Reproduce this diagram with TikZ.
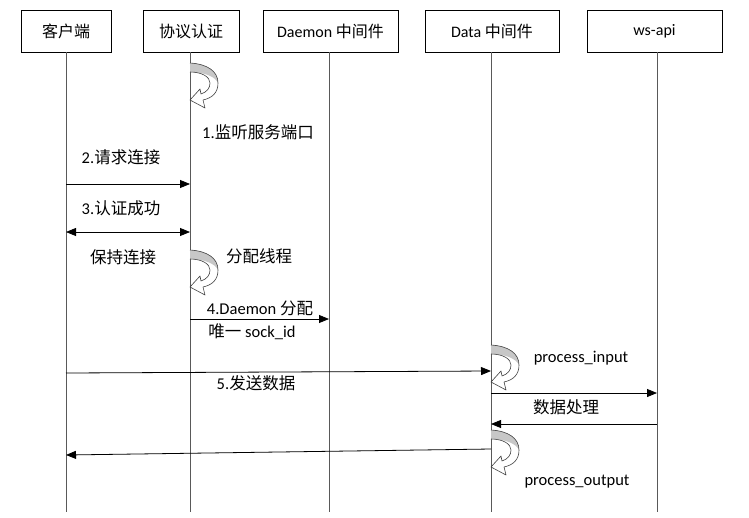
\documentclass[tikz,border=0pt]{standalone}
\usepackage{fontspec}
\setmainfont{Carlito}
\newfontfamily\cjk{Noto Sans CJK SC}
\usetikzlibrary{arrows.meta}
\begin{document}
\begin{tikzpicture}[x=1pt,y=-1pt,
  box/.style={draw, line width=0.8pt, minimum height=42pt, inner sep=0pt, font=\fontsize{16}{18}\selectfont},
  life/.style={draw=black!65, line width=0.8pt},
  msg/.style={line width=0.8pt, -{Triangle[length=10pt,width=8pt]}},
  dmsg/.style={line width=0.8pt, {Triangle[length=10pt,width=8pt]}-{Triangle[length=10pt,width=8pt]}},
  lbl/.style={inner sep=0pt, font=\fontsize{16.5}{18}\selectfont},
  selfcurl/.pic={
    \fill[black!22] (0,0) .. controls (17,1) and (28,8) .. (28,20)
      .. controls (26,14) and (14,9) .. (0,9) -- cycle;
    \draw[black!75, line width=0.6pt, line join=round]
      (0,0) .. controls (17,1) and (28,8) .. (28,20)
      .. controls (28,30) and (22,35) .. (13,37) -- (15,45) -- (0,37)
      -- (10,26) -- (11,31) .. controls (17,29) and (20,25) .. (20,20)
      .. controls (20,14) and (12,9) .. (0,9);
  }]
\useasboundingbox (0,0) rectangle (749,517);

% heads
\node[box, minimum width=90pt]  (b1) at (66,31)    {\cjk 客户端};
\node[box, minimum width=96pt]  (b2) at (191,31)   {\cjk 协议认证};
\node[box, minimum width=135pt] (b3) at (330.5,31) {Daemon {\cjk 中间件}};
\node[box, minimum width=134pt] (b4) at (492,31)   {Data {\cjk 中间件}};
\node[box, minimum width=135pt] (b5) at (654.5,31) {ws-api};

% lifelines
\coordinate (e1) at (66,512);
\coordinate (e2) at (190,512);
\coordinate (e3) at (329,512);
\coordinate (e4) at (491,512);
\coordinate (e5) at (657,512);
\draw[life] (b1.south -| e1) -- (e1);
\draw[life] (b2.south -| e2) -- (e2);
\draw[life] (b3.south -| e3) -- (e3);
\draw[life] (b4.south -| e4) -- (e4);
\draw[life] (b5.south -| e5) -- (e5);

% self activations
\pic (s1) at (190,63)  {selfcurl};
\pic (s2) at (190,250) {selfcurl};
\pic (s3) at (491,345) {selfcurl};
\pic (s4) at (491,430) {selfcurl};

% message end points
\coordinate (m2a) at (66,184);   \coordinate (m2b) at (190,184);
\coordinate (m3a) at (66,232);   \coordinate (m3b) at (190,232);
\coordinate (m4a) at (190,319);  \coordinate (m4b) at (329,319);
\coordinate (m5a) at (66,373);   \coordinate (m5b) at (491,371);
\coordinate (m6a) at (491,393);  \coordinate (m6b) at (657,393);
\coordinate (m7a) at (657,424);  \coordinate (m7b) at (491,424);
\coordinate (m8a) at (491,449);  \coordinate (m8b) at (66,455);

\draw[msg]  (m2a) -- (m2b);
\draw[dmsg] (m3a) -- (m3b);
\draw[msg]  (m4a) -- (m4b);
\draw[msg]  (m5a) -- (m5b);
\draw[msg]  (m6a) -- (m6b);
\draw[msg]  (m7a) -- (m7b);
\draw[msg]  (m8a) -- (m8b);

% labels
\node[lbl] (t1)  at (258,132) {1.{\cjk 监听服务端口}};
\node[lbl] (t2)  at (121,157) {2.{\cjk 请求连接}};
\node[lbl] (t3)  at (121,208) {3.{\cjk 认证成功}};
\node[lbl] (t3b) at (123,257) {\cjk 保持连接};
\node[lbl] (t4a) at (259,256) {\cjk 分配线程};
\node[lbl] (t4)  at (260,308) {4.Daemon {\cjk 分配}};
\node[lbl] (t4b) at (252,332) {{\cjk 唯一} sock\_id};
\node[lbl] (t5a) at (581,358) {process\_input};
\node[lbl] (t5)  at (256,383) {5.{\cjk 发送数据}};
\node[lbl] (t6)  at (566,407) {\cjk 数据处理};
\node[lbl] (t7)  at (577,482) {process\_output};
\end{tikzpicture}
\end{document}
